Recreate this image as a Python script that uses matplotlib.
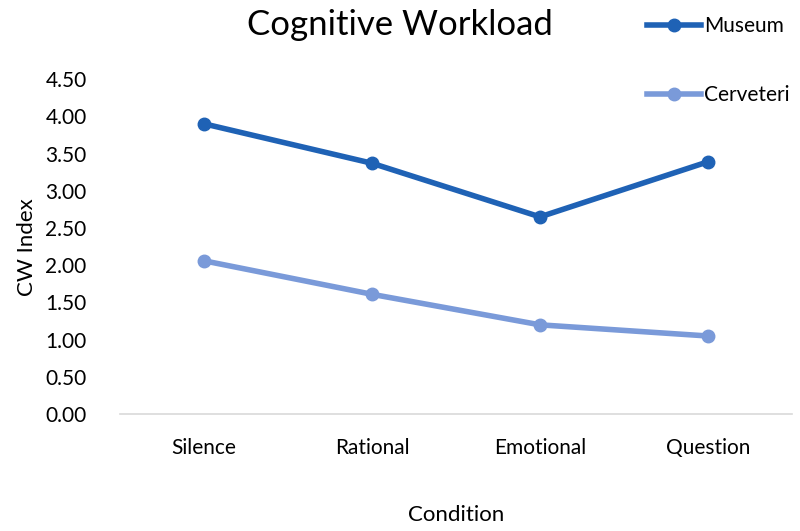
import matplotlib.pyplot as plt
import numpy as np

plt.rcParams['font.family'] = ['Lato', 'DejaVu Sans']

conditions = ['Silence', 'Rational', 'Emotional', 'Question']
museum = [3.90, 3.37, 2.65, 3.39]
cerveteri = [2.06, 1.61, 1.20, 1.05]

X = np.arange(len(conditions))

fig = plt.figure(figsize=(8, 5.31), dpi=100)
ax = fig.add_axes([0.15, 0.22, 0.84, 0.631])

ax.plot(X, museum, color='#1F62B5', lw=4, marker='o', ms=9, label='Museum')
ax.plot(X, cerveteri, color='#7A9AD9', lw=4, marker='o', ms=9, label='Cerveteri')

ax.set_xlim(-0.5, 3.5)
ax.set_ylim(0, 4.5)
ax.set_yticks(np.arange(0, 4.51, 0.5))
ax.set_yticklabels(['%.2f' % v for v in np.arange(0, 4.51, 0.5)], fontsize=15)
ax.set_xticks(X)
ax.set_xticklabels(conditions, fontsize=15)
ax.tick_params(axis='x', length=0, pad=17)
ax.tick_params(axis='y', length=0, pad=24)

for s in ['top', 'right', 'left']:
    ax.spines[s].set_visible(False)
ax.spines['bottom'].set_color('#D9D9D9')
ax.spines['bottom'].set_linewidth(1.2)

ax.set_ylabel('CW Index', fontsize=16, labelpad=6)
fig.text(0.57, 0.03, 'Condition', ha='center', va='center', fontsize=16)
fig.text(0.5, 0.953, 'Cognitive Workload', ha='center', va='center', fontsize=25)

leg = ax.legend(loc='upper left', bbox_to_anchor=(0.785, 1.005), bbox_transform=fig.transFigure,
                frameon=False, fontsize=15, labelspacing=2.35, handlelength=2.6,
                handletextpad=0.15)

plt.savefig('out.png')
